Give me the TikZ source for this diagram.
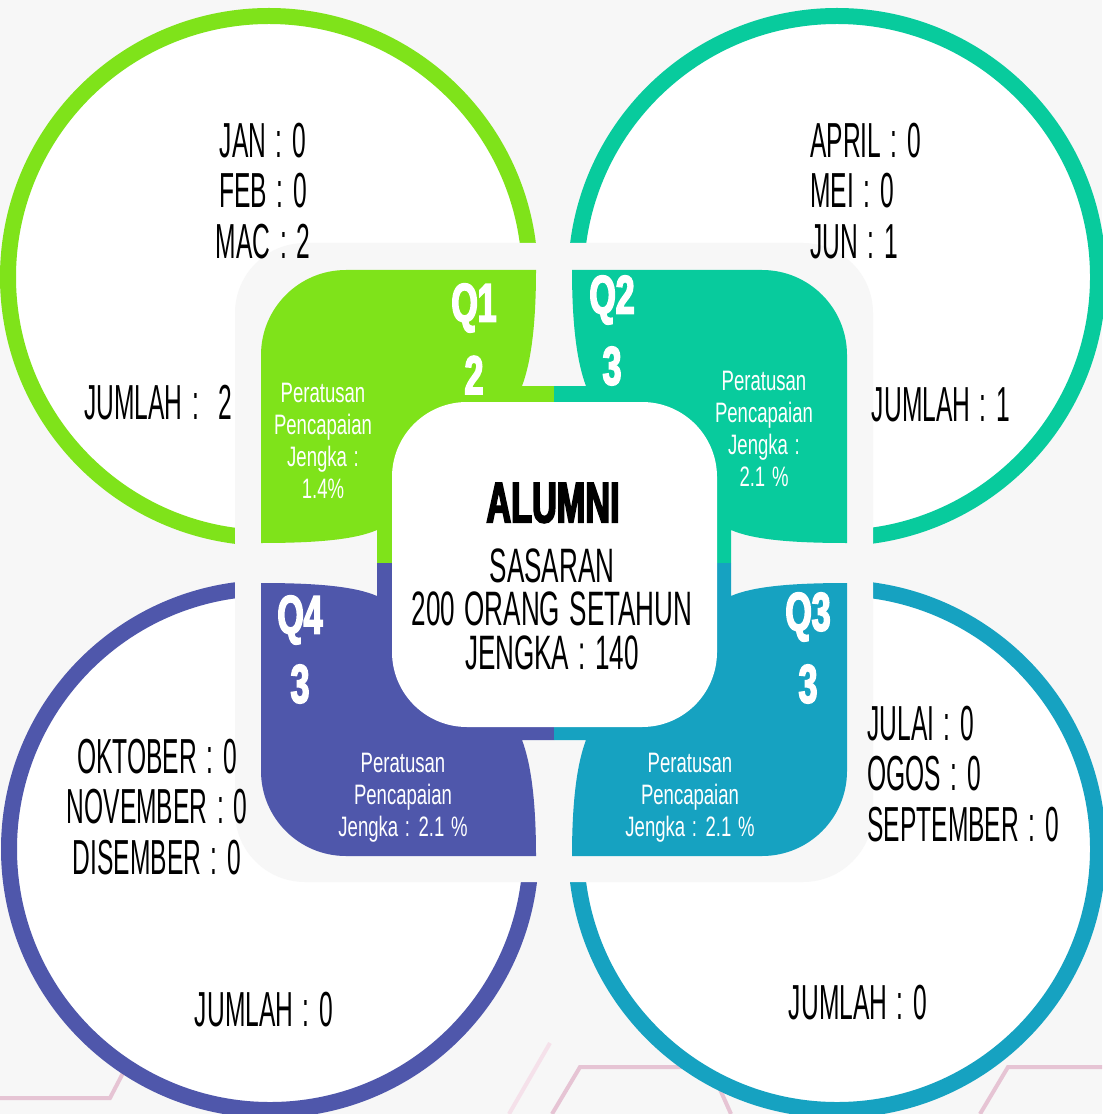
\documentclass[tikz,border=0pt]{standalone}
\usepackage{fontspec}
\setmainfont{Liberation Sans}[FakeStretch=0.5,WordSpace=1.4]
\newfontfamily\smallcond{Liberation Sans}[FakeStretch=0.66,WordSpace=1.3]
\newfontfamily\midcond{Liberation Sans}[FakeStretch=0.54,WordSpace=1.3]
\newfontfamily\heavycond{Liberation Sans Bold}[FakeStretch=0.6,FakeBold=3]
\newfontfamily\qcond{Liberation Sans Bold}[FakeStretch=0.62,FakeBold=3]

\definecolor{bggray}{HTML}{F7F7F7}
\definecolor{qgreen}{HTML}{7FE31A}
\definecolor{qteal}{HTML}{08CB9D}
\definecolor{qpurple}{HTML}{4F57AB}
\definecolor{qblue}{HTML}{16A2C1}
\definecolor{pinkline}{HTML}{E6C4D4}
\definecolor{pinkfaint}{HTML}{F5E1EA}

\tikzset{
  ring/.style={draw=#1, line width=0.32cm, fill=white},
  month/.style={font=\fontsize{28}{28.9}\selectfont, inner sep=0pt},
  qtag/.style={font=\qcond\fontsize{31}{31}\selectfont, text=white, inner sep=0pt},
  note/.style={font=\smallcond\fontsize{16}{18.1}\selectfont, text=white, align=center, inner sep=0pt},
  deco/.style={draw=pinkline, line width=0.08cm}
}

% one quarter, drawn for the top left, mirrored for the others
\newcommand{\leaf}[1]{%
  \fill[#1] (-293,-20) -- (-293,-208) .. controls (-293,-255) and (-255,-293) .. (-208,-293)
    -- (-18,-293) .. controls (-18,-233) and (-24,-198) .. (-32,-177)
    -- (0,-177) -- (0,0) -- (-177,0) -- (-177,-33)
    .. controls (-198,-24) and (-233,-20) .. (-293,-20) -- cycle;}

\begin{document}
\begin{tikzpicture}[x=0.02cm, y=-0.02cm]
  \useasboundingbox (0,0) rectangle (1102,1114);
  \fill[bggray] (0,0) rectangle (1102,1114);

  % lines at the bottom
  \draw[deco] (0,1098) -- (110,1098) -- (135,1050);
  \draw[deco, draw=pinkfaint] (550,1043) -- (509,1114);
  \draw[deco] (552,1114) -- (580,1067) -- (710,1067) -- (731,1114);
  \draw[deco] (980,1114) -- (1008,1067) -- (1102,1067);

  % the four circles
  \draw[ring=qgreen] (269,277) circle[radius=261];
  \draw[ring=qteal] (837,277) circle[radius=261];
  \draw[ring=qpurple] (270,849) circle[radius=261];
  \draw[ring=qblue] (837,849) circle[radius=261];

  \fill[bggray, rounded corners=1.4cm] (235,243) rectangle (873,882);

  \begin{scope}[shift={(554,563)}]
    \leaf{qgreen}
  \end{scope}
  \begin{scope}[shift={(554,563)}, xscale=-1]
    \leaf{qteal}
  \end{scope}
  \begin{scope}[shift={(554,563)}, yscale=-1]
    \leaf{qpurple}
  \end{scope}
  \begin{scope}[shift={(554,563)}, xscale=-1, yscale=-1]
    \leaf{qblue}
  \end{scope}

  \fill[white, rounded corners=1.5cm] (392,402) rectangle (717,727);

  % texts in the circles
  \node[month, align=center] (tlmonths) at (263,191) {JAN : 0\\FEB : 0\\MAC : 2};
  \node[month] (tlsum) at (158,403) {JUMLAH :\ \ 2};
  \node[month, align=left, anchor=west] (trmonths) at (810,191) {APRIL : 0\\MEI : 0\\JUN : 1};
  \node[month] (trsum) at (941,405) {JUMLAH : 1};
  \node[month, align=center] (blmonths) at (157,807) {OKTOBER : 0\\NOVEMBER : 0\\DISEMBER : 0};
  \node[month] (blsum) at (264,1010) {JUMLAH : 0};
  \node[month, align=left, anchor=west] (brmonths) at (867,774) {JULAI : 0\\OGOS : 0\\SEPTEMBER : 0};
  \node[month] (brsum) at (858,1003) {JUMLAH : 0};

  % quarter labels
  \node[qtag] (q1) at (474,308) {Q1};
  \node[qtag] (q1n) at (474,375) {2};
  \node[qtag] (q2) at (612,300) {Q2};
  \node[qtag] (q2n) at (612,366) {3};
  \node[qtag] (q4) at (300,620) {Q4};
  \node[qtag] (q4n) at (300,684) {3};
  \node[qtag] (q3) at (808,617) {Q3};
  \node[qtag] (q3n) at (808,684) {3};

  \node[note] (q1note) at (323,441) {Peratusan\\Pencapaian\\Jengka :\\1.4\%};
  \node[note] (q2note) at (764,429) {Peratusan\\Pencapaian\\Jengka :\\2.1 \%};
  \node[note] (q4note) at (403,798) {Peratusan\\Pencapaian\\Jengka : 2.1 \%};
  \node[note] (q3note) at (690,798) {Peratusan\\Pencapaian\\Jengka : 2.1 \%};

  % centre
  \node[font=\heavycond\fontsize{32.5}{32.5}\selectfont, inner sep=0pt] (alumni) at (553,503) {ALUMNI};
  \node[font=\midcond\fontsize{27.5}{24.8}\selectfont, align=center, inner sep=0pt] (target) at (552,609)
    {SASARAN\\200 ORANG SETAHUN\\JENGKA : 140};
\end{tikzpicture}
\end{document}
